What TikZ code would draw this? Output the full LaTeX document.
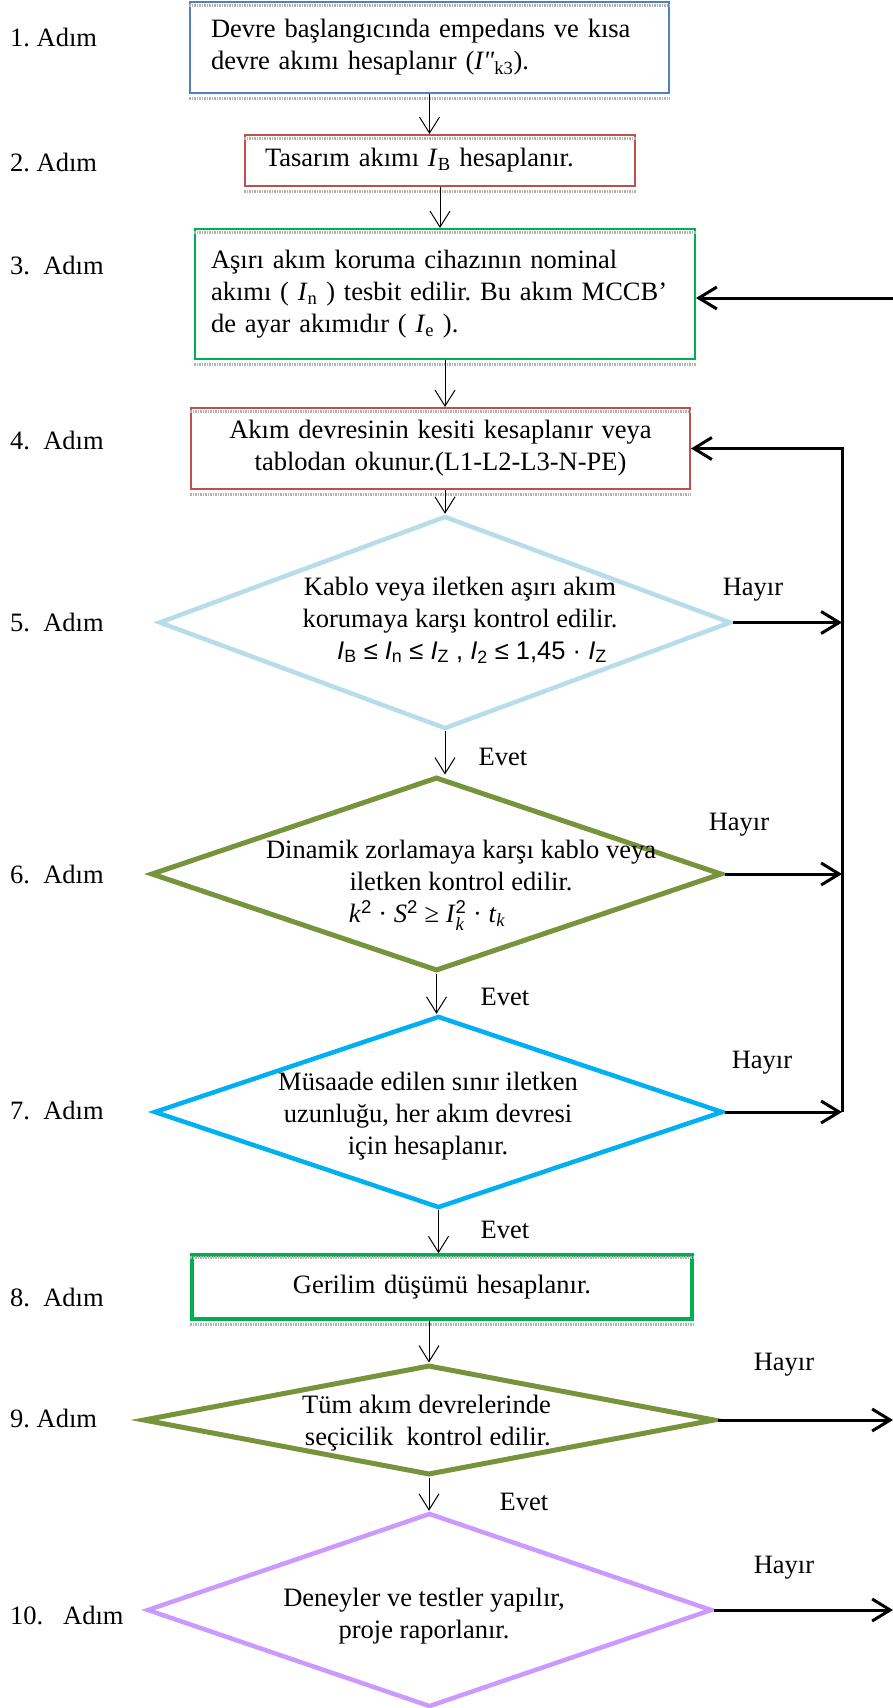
\documentclass[tikz,border=0pt]{standalone}
\usepackage{amsmath}
\usepackage{fontspec}
\setmainfont{Liberation Serif}
\setsansfont{Liberation Sans}
\usepackage{tikz}
\usetikzlibrary{arrows.meta, shapes.geometric}

\definecolor{wblue}{HTML}{4F81BD}
\definecolor{wred}{HTML}{C0504D}
\definecolor{wgreen}{HTML}{00B050}
\definecolor{wlight}{HTML}{B7DDE8}
\definecolor{wolive}{HTML}{77933C}
\definecolor{wsky}{HTML}{00B0F0}
\definecolor{wlilac}{HTML}{CC99FF}

\frenchspacing

\begin{document}
\begin{tikzpicture}[
    x=1pt, y=-1pt,
    font=\fontsize{26.5}{32}\selectfont,
    stepbox/.style={rectangle, draw=#1, line width=2pt, inner xsep=20pt, inner ysep=0pt, align=left},
    check/.style={diamond, draw=#1, line width=4.5pt, inner sep=0pt},
    cond/.style={align=center, inner sep=0pt},
    adim/.style={anchor=west, inner sep=0pt},
    lbl/.style={inner sep=0pt},
    arr/.style={-{Straight Barb[length=16pt, width=20pt]}, line width=1pt},
    arrb/.style={-{Straight Barb[length=18pt, width=22pt]}, line width=3pt},
    shadowline/.style={gray!60, line width=3pt, dash pattern=on 1.5pt off 1pt},
]
\useasboundingbox (0,0) rectangle (893,1708);

% step labels
\foreach \i/\y/\t in {1/37/{1. Adım}, 2/162/{2. Adım}, 3/265/{3.\ \ Adım}, 4/440/{4.\ \ Adım},
    5/622/{5.\ \ Adım}, 6/874/{6.\ \ Adım}, 7/1110/{7.\ \ Adım}, 8/1297/{8.\ \ Adım},
    9/1418/{9. Adım}, 10/1615/{10.\ \ \ Adım}}
  \node[adim] (a\i) at (10,\y) {\t};

% boxes
\node[stepbox=wblue, minimum width=479pt, minimum height=91pt, inner xsep=21pt, text width=437pt] (s1) at (429.5,47.5) {
    Devre başlangıcında empedans ve kısa\\
    devre akımı hesaplanır (\textit{I\textquotedbl}\textsubscript{k3}).
};
\node[stepbox=wred, minimum width=390pt, minimum height=51pt, text width=350pt] (s2) at (440,160.5) {
    Tasarım akımı \textit{I}\textsubscript{B} hesaplanır.
};
\node[stepbox=wgreen, minimum width=500pt, minimum height=130pt, inner xsep=16pt, text width=468pt] (s3) at (445,294) {
    Aşırı akım koruma cihazının nominal\\
    akımı ( \textit{I}\textsubscript{n} ) tesbit edilir. Bu~akım~MCCB’\\
    de ayar akımıdır ( \textit{I}\textsubscript{e} ).
};
\node[stepbox=wred, minimum width=499pt, minimum height=81pt, text width=459pt, align=center] (s4) at (440.5,448.5) {
    Akım devresinin kesiti kesaplanır veya\\
    tablodan okunur.(L1-L2-L3-N-PE)
};

% decisions
\node[check=wlight, minimum width=572pt, minimum height=213pt] (q5) at (445,622.5) {};
\node[cond] (q5t) at (460,620) {
    Kablo veya iletken aşırı akım\\
    korumaya karşı kontrol edilir.\\
    {\fontsize{25.5}{32}\sffamily\hspace*{24pt}\textit{I}\textsubscript{B} ≤ \textit{I}\textsubscript{n} ≤ \textit{I}\textsubscript{Z} , \textit{I}\textsubscript{2} ≤ 1,45 · \textit{I}\textsubscript{Z}}
};
\node[check=wolive, line width=5pt, minimum width=571pt, minimum height=194pt] (q6) at (436.5,874) {};
\node[cond] (q6t) at (461,885) {
    Dinamik zorlamaya karşı kablo veya\\
    iletken kontrol edilir.\\
    \hspace*{-68pt}\textit{k}$^{\textsf{2}}$ · \textit{S}$^{\textsf{2}}$ ≥ \textit{I}$^{\textsf{2}}_{\textit{k}}$ · \textit{t}$_{\textit{k}}$
};
\node[check=wsky, minimum width=569pt, minimum height=192pt] (q7) at (438.5,1112) {};
\node[cond] (q7t) at (428,1116) {
    Müsaade edilen sınır iletken\\
    uzunluğu, her akım devresi\\
    için hesaplanır.
};

\node[stepbox=wgreen, line width=3.5pt, minimum width=500pt, minimum height=64pt, text width=460pt, align=center] (s8) at (442,1287) {
    Gerilim düşümü hesaplanır.
};

\node[check=wolive, line width=5pt, minimum width=572pt, minimum height=110pt] (q9) at (429,1420) {};
\node[cond, align=right, anchor=east] (q9t) at (551,1423) {
    Tüm akım devrelerinde\\
    seçicilik\ \ kontrol edilir.
};
\node[check=wlilac, minimum width=565pt, minimum height=194pt] (q10) at (429.5,1610) {};
\node[cond] (q10t) at (424,1616) {
    Deneyler ve testler yapılır,\\
    proje raporlanır.
};

% box shadows
\foreach \n in {s1,s2,s3,s4,s8} {
  \draw[shadowline] ([yshift=-4pt]\n.north west) -- ([yshift=-4pt]\n.north east);
  \draw[shadowline] ([yshift=-4pt]\n.south west) -- ([yshift=-4pt]\n.south east);
}

% answers
\node[lbl] (h5) at (753,590) {Hayır};
\node[lbl] (h6) at (739,825) {Hayır};
\node[lbl] (h7) at (762,1063) {Hayır};
\node[lbl] (h9) at (784,1365) {Hayır};
\node[lbl] (h10) at (784,1568) {Hayır};
\node[lbl] (e5) at (503,757) {Evet};
\node[lbl] (e6) at (505,997) {Evet};
\node[lbl] (e7) at (505,1230) {Evet};
\node[lbl] (e9) at (524,1502) {Evet};

% main flow
\draw[arr] (s1.south) -- (s1.south |- s2.north);
\draw[arr] (s2.south) -- (s2.south |- s3.north);
\draw[arr] (s3.south) -- (s3.south |- s4.north);
\draw[arr] (s4.south -| q5.north) -- (q5.north);
\draw[arr] (q5.south) -- (q5.south |- q6.north);
\draw[arr] (q6.south) -- (q6.south |- q7.north);
\draw[arr] (q7.south) -- (q7.south |- s8.north);
\draw[arr] (s8.south -| q9.north) -- (q9.north);
\draw[arr] (q9.south) -- (q9.south |- q10.north);

% feedback
\coordinate (rail) at (842,0);
\coordinate (edge) at (893,298);
\draw[arrb] (q5.east) -- (q5.east -| rail);
\draw[arrb] (q6.east) -- (q6.east -| rail);
\draw[arrb] (q7.east) -- (q7.east -| rail);
\draw[arrb] (q7.east -| rail) |- (s4.east);
\draw[arrb] (edge) -- (edge -| s3.east);
\draw[arrb] (q9.east) -- (q9.east -| edge);
\draw[arrb] (q10.east) -- (q10.east -| edge);

\end{tikzpicture}
\end{document}
